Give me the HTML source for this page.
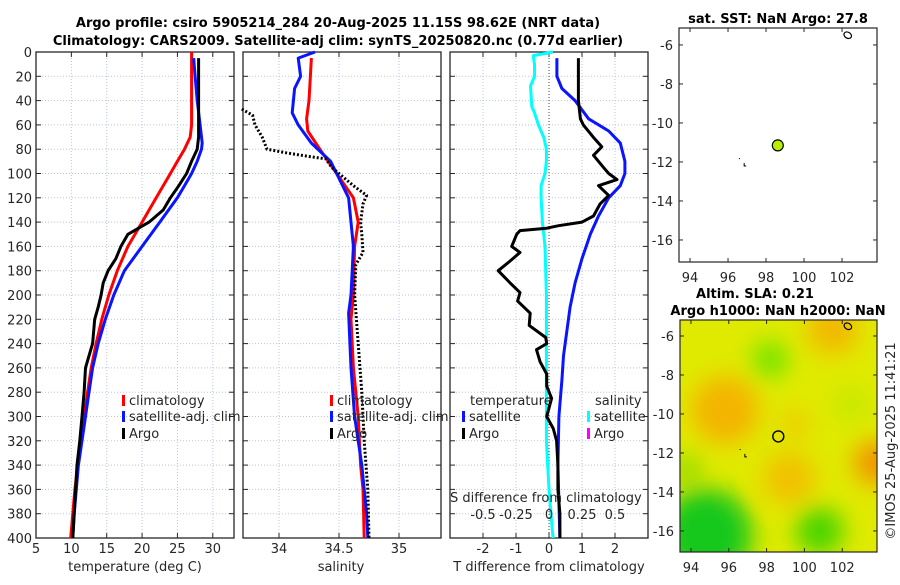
<!DOCTYPE html>
<html><head><meta charset="utf-8"><style>
body{margin:0;background:#fff;font-family:"Liberation Sans","DejaVu Sans",sans-serif}
svg text{font-family:"DejaVu Sans","Liberation Sans",sans-serif}
</style></head><body>
<svg id="c" width="900" height="580" xmlns="http://www.w3.org/2000/svg">
<defs>
<filter id="bl" x="-50%" y="-50%" width="200%" height="200%"><feGaussianBlur stdDeviation="12"/></filter>
<clipPath id="mclip"><rect x="680" y="320" width="197" height="232"/></clipPath>
</defs>
<g id="root"></g>
</svg>
<script>
// ---- data ----
const depthsTA=[5,20,40,60,70,80,90,100,110,120,130,140,145,150,160,170,180,190,200,210,220,240,250,260,280,300,320,340,360,380,400];
const tempArgo=[28,28,28,28,28,27.8,27,26.3,25.2,24,23,21,19.5,18,17,16.3,15.2,14.5,14.2,13.8,13.3,13,12.5,12,11.8,11.5,11.2,10.8,10.6,10.4,10.2];
const depthsTC=[0,60,70,80,90,100,120,140,160,180,200,220,240,260,280,300,320,340,360,380,400];
const tempClim=[27,27,26.8,26,25,24,22,20,18,16.5,15.3,14.3,13.5,12.8,12.3,11.8,11.3,10.9,10.5,10.2,9.9];
const depthsTS=[5,20,40,60,75,80,90,100,110,120,140,160,180,200,220,240,260,280,300,320,340,360,380,400];
const tempSat=[27.3,27.5,27.8,28.2,28.5,28.4,27.8,27,26,25,22.5,20,17.5,16,14.8,13.8,13,12.5,12,11.5,11,10.7,10.4,10.2];
const depthsSC=[5,40,55,65,80,100,120,140,160,200,220,260,300,340,360,400];
const salClim=[34.27,34.25,34.23,34.24,34.34,34.48,34.62,34.66,34.63,34.62,34.6,34.62,34.66,34.68,34.7,34.71];
const depthsSS=[0,5,20,30,50,60,75,90,100,120,140,160,200,215,260,300,340,380,400];
const salSat=[34.3,34.16,34.18,34.13,34.11,34.16,34.27,34.43,34.48,34.58,34.6,34.62,34.6,34.58,34.6,34.63,34.69,34.73,34.74];
const depthsSA=[47,52,60,70,80,83,86,88,95,110,118,125,140,150,165,175,200,240,280,320,360,400];
const salArgo=[33.69,33.78,33.8,33.86,33.9,34.06,34.25,34.39,34.44,34.62,34.73,34.7,34.68,34.69,34.7,34.64,34.63,34.66,34.69,34.71,34.74,34.75];
const depthsDA=[5,40,55,60,70,78,85,95,100,105,110,118,125,135,140,143,145,147,150,160,165,172,180,190,198,205,215,225,235,240,245,255,265,275,285,300,310,320,340,360,380,400];
const tdiffArgo=[0.89,0.89,0.95,1.04,1.34,1.6,1.35,1.65,1.81,2.06,1.5,1.81,1.55,1.35,1.0,0.29,-0.07,-0.88,-0.98,-1.13,-0.88,-1.18,-1.54,-1.18,-0.88,-0.95,-0.57,-0.6,-0.1,-0.07,-0.38,-0.27,-0.07,-0.07,0.08,-0.07,0.13,0.23,0.27,0.27,0.33,0.33];
const depthsDS=[5,20,30,40,55,65,75,90,100,110,120,135,150,170,190,210,230,250,270,300,340,400];
const tdiffSat=[0.24,0.24,0.39,0.79,1.2,1.81,2.16,2.3,2.3,2.16,1.81,1.5,1.25,1.0,0.79,0.64,0.54,0.44,0.39,0.3,0.27,0.33];
const depthsDC=[0,3,10,20,28,45,50,60,70,80,90,100,110,120,140,160,200,240,280,320,360,400];
const sdiffSat=[0.03,-0.12,-0.11,-0.11,-0.14,-0.13,-0.11,-0.08,-0.04,-0.02,-0.02,-0.03,-0.06,-0.06,-0.05,-0.03,-0.02,-0.02,-0.02,-0.02,0.0,0.03];
const depthTicks=[0,20,40,60,80,100,120,140,160,180,200,220,240,260,280,300,320,340,360,380,400];
const tempTicks=[5,10,15,20,25,30];
const salTicks=[34,34.5,35];
const tdTicks=[-2,-1,0,1,2];
const sdTicks=[-0.5,-0.25,0,0.25,0.5];
const sdTickLabels=["-0.5","-0.25","0","0.25","0.5"];
const lonTicks=[94,96,98,100,102];
const latTicks=[-6,-8,-10,-12,-14,-16];
const argoLon=98.62, argoLat=-11.15;

// ---- helpers ----
const NS="http://www.w3.org/2000/svg";
const root=document.getElementById('root');
function el(tag,attrs,parent){const e=document.createElementNS(NS,tag);for(const k in attrs)e.setAttribute(k,attrs[k]);(parent||root).appendChild(e);return e;}
function txt(x,y,s,attrs){const t=el('text',Object.assign({x:x,y:y,'font-size':13,fill:'#262626'},attrs||{}));t.textContent=s;return t;}
const Y0=52,Y1=538;
const yD=d=>Y0+d*(Y1-Y0)/400;
function xs(x0,x1,v0,v1){return v=>x0+(v-v0)*(x1-x0)/(v1-v0);}
const xT=xs(36,234,5,33), xS=xs(243,441,33.7,35.35), xTD=xs(450,648,-3,3), xSD=xs(450,648,-0.75,0.75);
function line(depths,vals,xf,color,name,extra){
  const pts=depths.map((d,i)=>xf(vals[i]).toFixed(1)+','+yD(d).toFixed(1)).join(' ');
  const p=el('polyline',Object.assign({points:pts,fill:'none',stroke:color,'stroke-width':3,'stroke-linejoin':'round'},extra||{}));
  
  
  return p;
}
function panel(x0,x1,ticks,xf,labels,name,showDepth){
  const g=el('g',{});
  
  
  depthTicks.forEach(d=>{
    el('line',{x1:x0,x2:x1,y1:yD(d),y2:yD(d),stroke:'#b8c4e8','stroke-width':1,'stroke-dasharray':'1,2'},g);
    el('line',{x1:x0,x2:x0+5,y1:yD(d),y2:yD(d),stroke:'#262626'},g);
    el('line',{x1:x1-5,x2:x1,y1:yD(d),y2:yD(d),stroke:'#262626'},g);
    if(showDepth){const t=txt(x0-4,yD(d)+5,String(d),{'text-anchor':'end'});}
  });
  ticks.forEach((v,i)=>{
    const x=xf(v);
    el('line',{x1:x,x2:x,y1:Y0,y2:Y1,stroke:'#b8c4e8','stroke-width':1,'stroke-dasharray':'1,2'},g);
    el('line',{x1:x,x2:x,y1:Y1,y2:Y1-5,stroke:'#262626'},g);
    el('line',{x1:x,x2:x,y1:Y0,y2:Y0+5,stroke:'#262626'},g);
    if(labels){const t=txt(x,Y1+15,labels[i],{'text-anchor':'middle'});}
  });
  el('rect',{x:x0,y:Y0,width:x1-x0,height:Y1-Y0,fill:'none',stroke:'#262626','stroke-width':1.3},g);
}
// panel 1
panel(36,234,tempTicks,xT,tempTicks.map(String),'temperature-panel',true);
line(depthsTC,tempClim,xT,'#ff0000','temp-climatology-line');
line(depthsTS,tempSat,xT,'#0a14ff','temp-satellite-line');
line(depthsTA,tempArgo,xT,'#000','temp-argo-line');
let t=txt(135,571,'temperature (deg C)',{'text-anchor':'middle'});
// panel 2
panel(243,441,salTicks,xS,salTicks.map(String),'salinity-panel',false);
line(depthsSC,salClim,xS,'#ff0000','sal-climatology-line');
line(depthsSS,salSat,xS,'#0a14ff','sal-satellite-line');
line(depthsSA,salArgo,xS,'#000','sal-argo-line',{'stroke-dasharray':'2,2'});
t=txt(341,571,'salinity',{'text-anchor':'middle'});
// panel 3
panel(450,648,tdTicks,xTD,tdTicks.map(String),'difference-panel',false);
el('line',{x1:xTD(0),x2:xTD(0),y1:Y0,y2:Y1,stroke:'#444','stroke-width':1,'stroke-dasharray':'1,2'});
line(depthsDC,sdiffSat,xSD,'#00ffff','sal-diff-satellite-line');
line(depthsDS,tdiffSat,xTD,'#0a14ff','temp-diff-satellite-line');
line(depthsDA,tdiffArgo,xTD,'#000','temp-diff-argo-line');
t=txt(549,571,'T difference from climatology',{'text-anchor':'middle'});
t=txt(450,502,'S difference from climatology');
sdTicks.forEach((v,i)=>{const s=txt(xSD(v),519,sdTickLabels[i],{'text-anchor':'middle'});});
// legends
function legend(x,y,color,label,name){
  const r=el('rect',{x:x,y:y-10,width:3,height:11,fill:color});
  const s=txt(x+7,y,label);
  
  
}
legend(122,405,'#ff0000','climatology','legend-climatology');
legend(122,421,'#0a14ff','satellite-adj. clim','legend-satellite-adj');
legend(122,438,'#000','Argo','legend-argo');
legend(330,405,'#ff0000','climatology','legend-climatology-2');
legend(330,421,'#0a14ff','satellite-adj. clim','legend-satellite-adj-2');
legend(330,438,'#000','Argo','legend-argo-2');
t=txt(470,405,'temperature');
legend(462,421,'#0a14ff','satellite','legend-t-satellite');
legend(462,438,'#000','Argo','legend-t-argo');
t=txt(595,405,'salinity');
legend(587,421,'#00ffff','satellite','legend-s-satellite');
legend(587,438,'#ff00ff','Argo','legend-s-argo');
// titles
t=txt(338,27,'Argo profile: csiro 5905214_284 20-Aug-2025 11.15S 98.62E (NRT data)',{'text-anchor':'middle','font-weight':'bold','fill':'#000'});
t=txt(338,45,'Climatology: CARS2009. Satellite-adj clim: synTS_20250820.nc (0.77d earlier)',{'text-anchor':'middle','font-weight':'bold','fill':'#000'});
// maps
function map(x0,x1,y0,y1,latTop,latBot,name){
  const lx=xs(x0,x1,93.42,103.84), ly=xs(y0,y1,latTop,latBot);
  return {lx,ly,draw(){
    const g=el('g',{});
    
    
    lonTicks.forEach(v=>{const x=lx(v);el('line',{x1:x,x2:x,y1:y1,y2:y1-4,stroke:'#262626'},g);el('line',{x1:x,x2:x,y1:y0,y2:y0+4,stroke:'#262626'},g);
      const s=txt(x,y1+20,String(v),{'text-anchor':'middle'});});
    latTicks.forEach(v=>{const y=ly(v);el('line',{x1:x0,x2:x0+4,y1:y,y2:y,stroke:'#262626'},g);el('line',{x1:x1-4,x2:x1,y1:y,y2:y,stroke:'#262626'},g);
      const s=txt(x0-6,y+5,String(v),{'text-anchor':'end'});});
    el('rect',{x:x0,y:y0,width:x1-x0,height:y1-y0,fill:'none',stroke:'#262626','stroke-width':1.2},g);
    el('path',{d:`M${lx(96.6)} ${ly(-11.8)} v1 M${lx(96.85)} ${ly(-12.05)} v3 h2`,stroke:'#000',fill:'none'},g);
    el('ellipse',{cx:lx(102.3),cy:ly(-5.5),rx:4,ry:3,fill:'none',stroke:'#000','stroke-width':1.2,transform:`rotate(30 ${lx(102.3)} ${ly(-5.5)})`},g);
  }};
}
const m1=map(679,877,28,262,-5.13,-17.13,'sst-map');
const m2=map(680,877,320,552,-5.18,-17.08,'sla-map');
const hg=el('g',{'clip-path':'url(#mclip)'});


el('rect',{x:680,y:320,width:197,height:232,fill:'#e0ea00'},hg);
const bg=el('g',{filter:'url(#bl)'},hg);
[[95.8,-9.8,34,'#f4b400'],[103.8,-12.5,22,'#f29200'],[101.5,-5.6,26,'#f2b800'],[99.2,-13.3,26,'#f2c000'],[99.5,-10.5,14,'#f0c800'],
 [98.2,-7.2,18,'#6ee400'],[94.8,-16.2,46,'#14c81a'],[100.8,-16,24,'#46d400'],[93.8,-12.8,14,'#8ad800'],[102.5,-9.5,18,'#c6e800']]
 .forEach(b=>el('circle',{cx:m2.lx(b[0]),cy:m2.ly(b[1]),r:b[2],fill:b[3]},bg));
m1.draw(); m2.draw();
let c=el('circle',{cx:m1.lx(argoLon),cy:m1.ly(argoLat),r:5.5,fill:'#b8ec00',stroke:'#000','stroke-width':1.2});
c=el('circle',{cx:m2.lx(argoLon),cy:m2.ly(argoLat),r:5.5,fill:'none',stroke:'#000','stroke-width':1.4});
t=txt(778,23,'sat. SST: NaN Argo: 27.8',{'text-anchor':'middle','font-weight':'bold','fill':'#000'});
t=txt(755,298,'Altim. SLA: 0.21',{'text-anchor':'middle','font-weight':'bold','fill':'#000'});
t=txt(778,315,'Argo h1000: NaN h2000: NaN',{'text-anchor':'middle','font-weight':'bold','fill':'#000'});
t=txt(0,0,'©IMOS 25-Aug-2025 11:41:21',{'text-anchor':'middle','transform':'translate(895,441) rotate(-90)'});
</script>
</body></html>
